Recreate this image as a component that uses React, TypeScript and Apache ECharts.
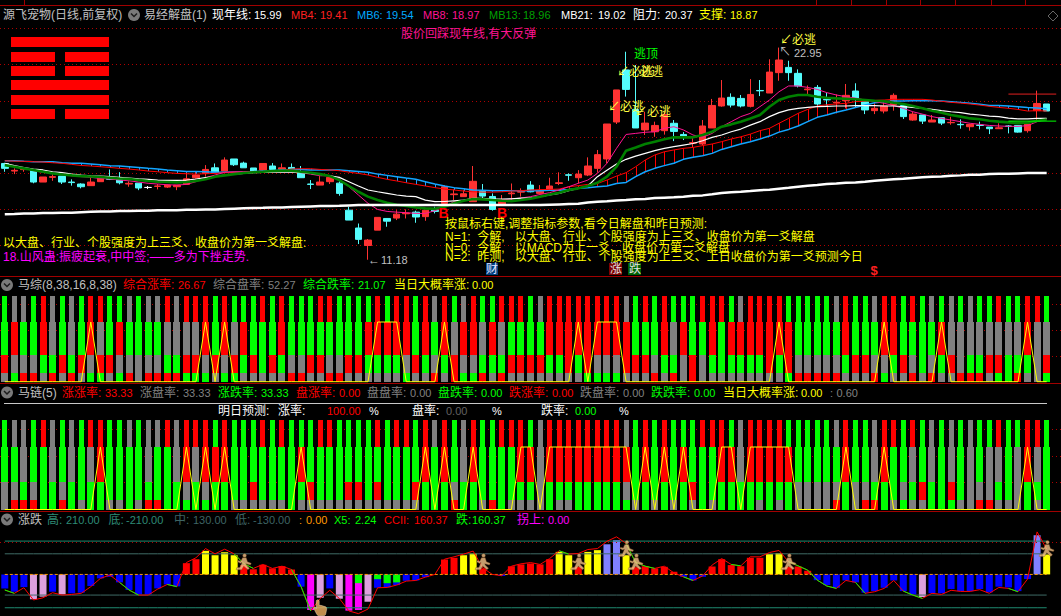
import React, { useEffect, useRef } from "react";
import * as echarts from "echarts";

// ---------- main panel data ----------
// [open, close, low, high]
const candles: number[][] = [
[16.52,16.25,16.06,16.56],[16.10,16.14,15.93,16.25],[16.18,16.22,16.06,16.30],[16.12,15.49,15.42,16.19],[15.49,15.77,15.49,15.77],
[15.75,15.79,15.56,15.93],[15.82,15.49,15.38,15.82],[15.49,15.46,15.29,15.64],[15.38,15.23,15.14,15.42],[15.29,15.49,15.29,15.75],
[15.51,15.73,15.51,15.82],[15.73,15.64,15.60,16.19],[15.67,15.45,15.36,16.04],[15.38,15.42,15.23,15.53],[15.43,15.16,15.04,15.43],
[15.19,15.19,15.10,15.27],[15.25,15.27,15.08,15.38],[15.21,15.32,15.16,15.36],[15.23,15.32,15.04,15.32],[15.36,15.67,15.36,16.01],
[15.73,15.88,15.67,16.06],[15.97,16.19,15.79,16.43],[16.28,16.03,16.03,16.52],[16.10,16.71,16.10,16.86],[16.77,16.45,16.38,16.77],
[16.54,16.28,16.28,16.62],[16.27,16.10,16.10,16.27],[16.15,16.52,16.15,16.52],[16.38,16.19,16.19,16.54],[16.19,16.28,16.10,16.52],
[16.30,16.19,16.12,16.52],[16.04,15.73,15.73,16.38],[15.38,15.36,15.10,15.60],[15.32,15.49,15.32,15.82],[15.51,15.75,15.38,15.75],
[15.43,14.86,14.73,15.67],[13.93,13.38,13.38,14.12],[12.94,12.31,12.05,13.19],[11.97,12.27,11.18,12.33],[12.82,13.53,12.82,13.53],
[13.47,13.32,13.01,13.47],[13.49,13.71,13.38,13.93],[13.73,13.77,13.47,13.97],[13.82,13.55,13.23,13.90],[13.57,13.93,13.34,13.93],
[13.93,13.86,13.75,14.12],[14.30,15.23,14.27,15.32],[14.79,14.83,14.49,15.08],[14.68,14.84,14.68,15.04],[14.40,15.53,14.40,16.38],
[14.99,14.71,14.58,15.38],[14.69,13.97,13.90,14.86],[14.27,14.49,14.27,14.77],[14.84,14.88,14.49,15.41],[14.93,14.97,14.68,15.14],
[15.32,14.95,14.92,15.54],[14.86,14.99,14.86,15.32],[15.08,15.27,15.04,15.73],[15.41,15.45,15.32,16.03],[15.89,15.87,15.56,15.97],
[15.73,15.93,15.41,16.15],[15.88,16.38,15.82,16.86],[16.25,17.01,16.01,17.27],[16.77,18.71,16.52,18.71],[18.82,20.60,18.71,20.60],
[21.71,20.63,20.23,22.72],[19.52,18.49,18.49,21.98],[18.38,18.76,18.10,19.39],[18.28,18.63,18.00,18.84],[18.34,19.24,18.12,19.39],
[18.75,18.30,17.76,18.93],[18.13,17.99,17.82,18.26],[17.64,17.68,17.41,17.97],[17.60,18.60,17.52,18.93],[18.49,19.74,18.49,20.10],
[19.71,20.15,19.67,21.15],[20.19,19.76,19.63,20.41],[20.13,19.71,19.63,20.32],[19.69,20.35,19.63,21.20],[20.57,20.55,20.26,21.15],
[20.43,21.59,20.43,22.30],[21.56,22.26,21.11,22.95],[21.85,21.56,21.11,22.22],[21.52,20.82,20.74,21.74],[20.61,20.65,20.37,20.85],
[20.74,19.82,19.71,20.87],[20.08,20.05,19.74,20.45],[19.88,19.92,19.30,20.35],[20.00,20.30,19.58,20.93],[20.54,20.13,19.63,20.97],
[19.95,19.49,19.26,20.04],[19.45,19.58,19.26,19.86],[19.43,19.71,19.30,19.95],[19.76,20.30,19.45,20.41],[19.73,19.12,18.99,19.86],
[18.93,19.26,18.89,19.39],[19.21,18.87,18.71,19.21],[18.82,18.93,18.82,19.21],[19.06,18.76,18.65,19.06],[18.78,18.80,18.67,19.11],
[18.69,18.67,18.45,18.97],[18.56,18.69,18.34,18.69],[18.65,18.63,18.41,18.84],[18.54,18.45,18.15,18.54],[18.45,18.50,18.45,18.75],
[18.60,18.58,18.19,18.65],[18.63,18.26,18.23,18.63],[18.34,18.71,18.23,18.71],[19.45,19.85,18.93,20.56],[19.82,19.43,19.43,19.82],
];
const yearLine = [
13.71,13.72,13.74,13.74,13.77,13.77,13.79,13.79,13.82,13.84,13.86,13.86,13.88,13.88,13.90,13.90,13.92,13.93,13.93,13.95,
13.95,13.97,13.97,13.99,14.01,14.03,14.05,14.06,14.08,14.08,14.10,14.12,14.14,14.16,14.16,14.17,14.19,14.21,14.21,14.21,
14.21,14.21,14.21,14.21,14.21,14.21,14.21,14.21,14.21,14.21,14.21,14.21,14.21,14.21,14.21,14.21,14.21,14.23,14.25,14.27,
14.29,14.36,14.40,14.43,14.47,14.49,14.53,14.55,14.60,14.62,14.64,14.68,14.73,14.75,14.81,14.88,14.93,14.95,14.99,15.04,
15.06,15.12,15.17,15.23,15.28,15.32,15.38,15.41,15.45,15.47,15.51,15.56,15.60,15.64,15.67,15.71,15.75,15.79,15.80,15.84,
15.86,15.90,15.90,15.93,15.95,15.95,15.97,15.99,15.99,15.99];
const mb6 = [
16.67,16.67,16.64,16.62,16.62,16.62,16.56,16.53,16.53,16.49,16.45,16.40,16.38,16.34,16.30,16.25,16.21,16.16,16.12,16.08,
16.08,16.06,16.04,16.03,16.03,16.04,16.06,16.10,16.12,16.16,16.19,16.19,16.16,16.16,16.16,16.16,16.12,16.08,16.03,15.93,
15.86,15.79,15.71,15.64,15.51,15.38,15.27,15.18,15.12,15.05,15.03,15.01,15.01,15.01,15.01,15.01,15.01,15.03,15.03,15.08,
15.14,15.18,15.23,15.27,15.41,15.47,15.79,16.06,16.25,16.40,16.53,16.75,16.86,16.95,17.08,17.30,17.45,17.60,17.73,17.88,
18.04,18.26,18.41,18.60,18.84,19.08,19.21,19.36,19.49,19.63,19.76,19.89,19.95,19.98,19.98,20.00,20.00,20.00,19.98,19.95,
19.91,19.86,19.80,19.74,19.73,19.71,19.67,19.63,19.60,19.56];
const mb4 = [
16.67,16.65,16.64,16.62,16.60,16.56,16.53,16.47,16.41,16.38,16.34,16.30,16.25,16.21,16.16,16.10,16.06,16.01,15.97,15.95,
15.93,15.95,15.97,16.01,16.03,16.04,16.06,16.06,16.08,16.12,16.21,16.23,16.23,16.19,16.16,16.12,16.04,15.97,15.88,15.75,
15.64,15.55,15.45,15.36,15.27,15.18,15.10,15.05,14.99,14.95,14.93,14.93,14.95,14.99,15.01,15.05,15.07,15.08,15.10,15.23,
15.29,15.36,15.41,15.60,15.82,16.01,16.34,16.71,16.99,17.17,17.27,17.36,17.41,17.51,17.60,17.73,17.88,18.00,18.15,18.34,
18.47,18.75,19.02,19.30,19.52,19.71,19.78,19.82,19.86,19.95,19.98,20.02,20.04,20.08,20.08,20.08,20.08,20.04,19.97,19.91,
19.87,19.82,19.76,19.69,19.63,19.58,19.52,19.43,19.45,19.43];
const mb8 = [
16.47,16.34,16.25,16.12,16.03,15.97,15.91,15.84,15.79,15.75,15.69,15.66,15.60,15.56,15.49,15.42,15.38,15.34,15.32,15.36,
15.51,15.73,15.88,16.03,16.06,16.06,16.08,16.08,16.08,16.08,16.06,16.01,15.93,15.84,15.84,15.66,15.23,14.77,14.31,13.97,
13.86,13.82,13.79,13.75,13.75,13.90,14.12,14.40,14.49,14.53,14.53,14.49,14.49,14.55,14.60,14.68,14.80,14.90,15.05,15.23,
15.42,15.60,15.97,16.53,17.36,18.13,18.19,18.25,18.28,18.47,18.56,18.38,18.10,17.97,18.19,18.56,18.84,19.12,19.30,19.67,
20.04,20.50,20.82,20.82,20.74,20.63,20.45,20.32,20.22,20.15,20.04,19.95,19.86,19.73,19.58,19.39,19.26,19.12,19.02,18.93,
18.84,18.75,18.69,18.63,18.60,18.58,18.58,18.62,18.84,18.97];
const mb13 = [
16.43,16.34,16.25,16.16,16.06,15.97,15.91,15.86,15.82,15.80,15.77,15.73,15.69,15.66,15.60,15.55,15.51,15.49,15.47,15.49,
15.55,15.64,15.79,15.86,15.93,15.99,16.03,16.06,16.10,16.12,16.12,16.06,16.01,15.93,15.82,15.60,15.27,14.95,14.68,14.49,
14.34,14.23,14.16,14.08,14.03,14.01,14.12,14.31,14.45,14.55,14.53,14.49,14.45,14.43,14.49,14.56,14.68,14.80,14.90,15.05,
15.14,15.27,15.45,15.79,16.34,17.23,17.41,17.60,17.73,17.86,17.97,17.97,17.97,18.10,18.28,18.56,18.69,18.84,19.02,19.21,
19.67,20.04,20.22,20.32,20.32,20.22,20.17,20.13,20.11,20.08,20.04,20.00,19.97,19.89,19.82,19.71,19.58,19.45,19.34,19.21,
19.12,19.02,18.97,18.89,18.84,18.80,18.76,18.78,18.89,18.96];
const mb21 = [
16.53,16.40,16.29,16.21,16.16,16.06,16.01,15.93,15.88,15.84,15.82,15.79,15.75,15.71,15.67,15.64,15.60,15.58,15.58,15.60,
15.66,15.73,15.79,15.88,15.93,15.97,16.01,16.03,16.04,16.04,16.04,16.03,15.97,15.91,15.84,15.75,15.51,15.27,15.05,14.95,
14.86,14.77,14.71,14.68,14.49,14.40,14.41,14.45,14.49,14.58,14.58,14.55,14.55,14.56,14.60,14.62,14.68,14.77,14.86,15.01,
15.14,15.27,15.79,16.15,16.49,16.75,16.93,17.08,17.23,17.36,17.45,17.54,17.63,17.78,17.97,18.10,18.28,18.43,18.65,18.84,
19.12,19.34,19.49,19.58,19.63,19.67,19.69,19.71,19.71,19.73,19.73,19.73,19.71,19.71,19.67,19.63,19.58,19.52,19.45,19.39,
19.34,19.26,19.21,19.15,19.12,19.04,18.99,18.99,19.02,19.02];
const resistance = 20.37;
const support = 18.87;
const hexagram = [1, 0, 0, 1, 1, 0]; // top to bottom: 1 = solid line, 0 = broken line

// ---------- stacked cell panels (R red, G green, K grey) ----------
const cellTop =
  "GKKGRKGKGRRGGKGKKRKRRRGRGGGR" + "GRGGGRRGGGGRGRRGRKRGKRGGRRR" +
  "GKRRRRRRRRKGRGRGGGRRRGKRRRRGGGGGKRGGKRRGRGKGKGKGGRGGRRG";
const zongRow2 =
  "GRGGRKGKGRKGRGGGGKKKKRGRKRGG" + "GRGGGGGGGGRRRRRGRGRKRRKRKGG" +
  "GGRRRRRRRRRGGGRKRGGRGRRRRRRRGGGGGRGGGRRGGGGRKKKKKKKKRKK";
const zongRow3 =
  "RKKKGGRGRKRRKKKKKGGRRKRKRGRG" + "RGKKRRKKRRGGGGKRGKGRKKGGGRR" +
  "RRGGRGRKKKRRRKGGKRKGGGGGGRGRKKKKKGRRKKGRKGKGRKGGRRGGGKR";
const zongRow4 =
  "KGRRKRKRKGGKGRKRRRRGGGKGGKKK" + "KKRRKKRRKKKKKKGKKRKRGGRKRKK" +
  "KKKKKKGGGGKKKRKRKRKKKKKKKKKGRRRRRKKKRGKKRKRKKRRRKGGRKKG";
const lianRow2 =
  "GGKGGKGKGKRGGGGKGGKRKRRRGGGG" + "GGGRGGGGGGGGGGGGRGRGKRGGGGR" +
  "RKRRRRRRRRRGRGRGRGGGRRKRRRRRGGGGGRGGKRGGKGKGKGKGKKGKRKG";
const lianRow3 =
  "KKGKGGKGGGGGGGGGGGGKGKGGGGRG" + "GGGGRGGGRRGRGGGRGGGKGGGGGGG" +
  "GKGGGGGGGGKGGGGGGRGGGGGGGGGGKKKKKGKKGGGKGRGGRGKKKGGKGGG";
const lianRow4 =
  "KRRRGGRGKGGKKGKRRGGGGGGGKKKK" + "KKGKKKKKKKKKKKKKGGGRGGKRGKK" +
  "KKGKKGGGGGGKGKGKGKGKGGGGKGKGKKKKRGKRRGKGKKGGGKKRRKKKGKG";
const rowEdges = [0, 15, 44, 100, 143];
const zongPeaks = [9, 21, 23, 39, 40, 41, 46, 60, 62, 63, 64, 81, 92, 98, 107];
const lianPeaks = [10, 19, 21, 23, 31, 44, 46, 49, 54, 55, 57, 58, 59, 60, 61, 62, 63, 64, 65, 67, 69, 71, 75, 76, 78, 79, 80, 81, 82, 88, 92, 107];

// ---------- bottom panel ----------
const histValues = [
-88,-109,-80,-157,-140,-109,-126,-119,-115,-73,-25,-15,-50,-98,-126,-126,-88,-63,-75,71,
96,149,121,140,121,59,33,61,38,52,31,-77,-224,-147,-88,-153,-228,-224,-172,-84,
-82,-67,-40,-38,-17,0,94,105,121,132,38,0,-10,52,63,69,63,96,142,121,
48,142,153,190,216,121,46,52,38,48,17,-15,-38,-15,50,96,59,52,105,105,
128,134,48,50,23,-36,-67,-84,-38,-50,-115,-105,-84,-38,-105,-126,-142,-119,-119,-92,
-105,-105,-92,-113,-77,-82,-105,-29,247,126];
const histColorKeys =
  "BBBLLBLBBB" + "BBBBBBBBBR" + "RYYYYRRRRR" + "RBMLBLMMLB" + "BBBBBBRRYY" +
  "RBBRRRRRYY" + "RYYPPYRRRR" + "RBBBRRRRRR" + "YYRRRBBBBB" + "BBBBBBLBBB" + "BBBBBBBBPY";
const cci = [
-98,-119,-84,-161,-147,-115,-130,-126,-119,-77,-25,-4,-50,-98,-130,-130,-92,-63,-77,75,
105,163,130,159,130,69,38,63,38,52,31,-77,-230,-151,-100,-151,-230,-247,-218,-84,
-82,-67,-42,-38,-17,0,96,111,128,147,42,0,-8,52,67,75,63,100,149,128,
132,157,163,209,237,195,75,52,38,52,10,-15,-38,-10,59,100,63,54,111,111,
138,151,80,54,27,-36,-73,-88,-38,-50,-119,-109,-88,-38,-105,-130,-151,-119,-126,-100,
-107,-107,-96,-119,-82,-88,-109,-29,268,160];
const cciFalling = [[0, 1], [12, 14], [17, 18], [24, 26], [30, 32], [58, 59], [65, 68], [71, 72], [76, 77], [82, 87], [89, 90], [94, 96], [103, 103], [105, 106]];
const greenOverlay: Record<number, number> = { 37: -55, 39: -30, 40: -55, 41: -50 };
const highLevel = 210;
const lowLevel = -210;
const midLevel = 130;
const minorLevel = -130;
const runnerAt = [[25, 80], [50, 80], [60, 80], [65, 164], [66, 80], [82, 80], [109, 164]];
const handAt = [[33, -210]];

const CATS = 111;
const COLS = 110;
const FONT = '12px "Liberation Sans","Noto Sans CJK SC","DejaVu Sans"';
const NUMFONT = '11px "Liberation Sans","Noto Sans CJK SC","DejaVu Sans"';

const RUNNER = "path://M11 0a2.2 2.2 0 1 1-.01 0zM8.5 5L13 5L14.5 10L19 12L18 14L12.5 12.5L13 14L17 18L15 20L10 15.5L7.5 20L1 20L1.5 17.5L5.5 17L8 11L6 12L2.5 10L3.5 8.5L6.5 9.5Z";
const HAND = "path://M5 0C6.5 0 7 1 7 2L7 7L9 7L14 8.5C15.5 9 16 10 16 11.5L15 17C14.8 18.5 14 20 12 20L7 20C5.5 20 4.5 19 4 18L0.5 11C0 9.5 1.5 8.5 3 10L3.5 11L3.5 2C3.5 1 4 0 5 0Z";

function cells(rows: string[]) {
  const out: number[][] = [];
  rows.forEach((row, r) => {
    for (let i = 0; i < COLS; i++) {
      const c = "RGK".indexOf(row.charAt(i) || "K");
      // rows are given top to bottom, edges run bottom to top
      out.push([i, rowEdges[3 - r], rowEdges[4 - r], c, r]);
    }
  });
  return out;
}
const CELL_COLORS = ["#ff0000", "#00ff00", "#808080"];
function renderCell(_: any, api: any) {
  const i = api.value(0);
  const lo = api.coord([i, api.value(1)]);
  const hi = api.coord([i, api.value(2)]);
  const w = api.value(4) === 0 ? 5 : 7;
  const top = Math.round(hi[1]);
  return {
    type: "rect",
    shape: { x: Math.round(lo[0] - w / 2), y: top, width: w, height: Math.round(lo[1]) - top },
    style: { fill: CELL_COLORS[api.value(3)] },
  };
}
function renderStick(_: any, api: any) {
  const i = api.value(0);
  const a = api.coord([i, api.value(1)]);
  const b = api.coord([i, api.value(2)]);
  const x = Math.round(a[0]) + 0.5;
  return {
    type: "line",
    shape: { x1: x, y1: a[1], x2: x, y2: b[1] },
    style: { stroke: api.value(1) >= api.value(2) ? "#ff0000" : "#1e9bff", lineWidth: 1 },
  };
}
const peaks = (list: number[]) => Array.from({ length: COLS }, (_, i) => (list.indexOf(i) >= 0 ? 100 : 0));

function graphics() {
  const els: any[] = [];
  const t = (x: number, y: number, text: string, fill: string) =>
    els.push({
      type: "text", x, y, z: 60, silent: true,
      style: { text, fill, font: /^[\x00-\x7f]+$/.test(text) ? NUMFONT : FONT, align: "left", verticalAlign: "middle" },
    });
  const box = (x: number, y: number, w: number, h: number, fill: string) =>
    els.push({ type: "rect", z: 55, silent: true, shape: { x, y, width: w, height: h }, style: { fill } });
  const hline = (x1: number, x2: number, y: number, stroke: string) =>
    els.push({ type: "line", z: 55, silent: true, shape: { x1, y1: y, x2, y2: y }, style: { stroke, lineWidth: 1 } });
  const chevron = (cx: number, cy: number) => {
    els.push({ type: "circle", z: 55, silent: true, shape: { cx, cy, r: 6 }, style: { fill: "#7a7a7a" } });
    els.push({ type: "polyline", z: 56, silent: true, shape: { points: [[cx - 3, cy - 1.5], [cx, cy + 1.5], [cx + 3, cy - 1.5]] }, style: { stroke: "#1c1c1c", lineWidth: 1.5, fill: "none" } });
  };

  const DARK = "#a00000";
  hline(0, 1061, 5.5, DARK);
  hline(0, 1061, 276.5, DARK);
  hline(0, 1061, 383.5, DARK);
  hline(0, 1061, 511.5, DARK);
  hline(4, 1047, 403.5, "#c8c8c8");
  [24, 816, 851, 886, 920, 955, 991, 1025].forEach((x) =>
    els.push({ type: "line", z: 55, silent: true, shape: { x1: x + 0.5, y1: 0, x2: x + 0.5, y2: 5 }, style: { stroke: DARK, lineWidth: 1 } }));
  els.push({ type: "polygon", z: 55, silent: true, shape: { points: [[1053, 11], [1058, 16], [1053, 21], [1048, 16]] }, style: { stroke: "#666", fill: "none", lineWidth: 1 } });

  // hexagram
  const rowYs = [37, 52, 66, 80, 95, 109];
  hexagram.forEach((solid, k) => {
    if (solid) box(11, rowYs[k], 98, 10, "#ff0000");
    else { box(11, rowYs[k], 44, 10, "#ff0000"); box(65, rowYs[k], 44, 10, "#ff0000"); }
  });

  // main header
  const y1 = 15;
  t(3, y1, "源飞宠物(日线,前复权)", "#c0c0c0");
  chevron(134, y1);
  t(144, y1, "易经解盘(1)", "#c0c0c0");
  t(212, y1, "现年线:", "#ffffff"); t(254, y1, "15.99", "#ffffff");
  t(291, y1, "MB4:", "#ff2020"); t(320, y1, "19.41", "#ff2020");
  t(357, y1, "MB6:", "#00aaff"); t(386, y1, "19.54", "#00aaff");
  t(423, y1, "MB8:", "#ff1493"); t(452, y1, "18.97", "#ff1493");
  t(489, y1, "MB13:", "#00a000"); t(523, y1, "18.96", "#00a000");
  t(561, y1, "MB21:", "#ffffff"); t(598, y1, "19.02", "#ffffff");
  t(633, y1, "阻力:", "#ffffff"); t(665, y1, "20.37", "#ffffff");
  t(699, y1, "支撑:", "#ffff00"); t(730, y1, "18.87", "#ffff00");

  // main annotations
  t(401, 34, "股价回踩现年线,有大反弹", "#ff1493");
  t(634, 54, "逃顶", "#00ff00");
  t(617, 72, "↙必逃", "#ffff40"); t(639, 72, "必逃", "#ffff40");
  t(608, 107, "↙必逃", "#ffff40"); t(635, 112, "↙必逃", "#ffff40");
  t(780, 40, "↙必逃", "#ffff40");
  t(779, 52, "↖", "#c0c0c0"); t(794, 53, "22.95", "#c0c0c0");
  t(368, 260, "←", "#c0c0c0"); t(381, 260, "11.18", "#c0c0c0");
  els.push({ type: "text", x: 443.5, y: 213, z: 60, silent: true, style: { text: "B", fill: "#ff0000", font: 'bold 14px "Liberation Sans"', align: "center", verticalAlign: "middle" } });
  els.push({ type: "text", x: 502, y: 213, z: 60, silent: true, style: { text: "B", fill: "#ff0000", font: 'bold 14px "Liberation Sans"', align: "center", verticalAlign: "middle" } });
  t(3, 243, "以大盘、行业、个股强度为上三爻、收盘价为第一爻解盘:", "#ffff00");
  t(3, 257, "18.山风蛊:振疲起衰,中中签;——多为下挫走势.", "#ff00ff");
  t(445, 224, "按鼠标右键,调整指标参数,看今日解盘和昨日预测:", "#ffff00");
  t(445, 237, "N=1:  今解,   以大盘、行业、个股强度为上三爻、收盘价为第一爻解盘", "#ffff00");
  t(445, 248, "N=0:  今解,   以MACD为上一爻、收盘价为第一爻解盘", "#ffff00");
  t(445, 257, "N=2:  昨测,   以大盘、行业、个股强度为上三爻、上日收盘价为第一爻预测今日", "#ffff00");
  box(486, 263, 12, 12, "#00407f"); t(486, 269, "财", "#e0e0ff");
  box(609, 263, 13, 12, "#7f0000"); t(610, 269, "涨", "#e0e0e0");
  box(628, 263, 13, 12, "#006000"); t(629, 269, "跌", "#e0e0e0");
  els.push({ type: "text", x: 874, y: 270, z: 60, silent: true, style: { text: "$", fill: "#ff2020", font: 'bold 13px "Liberation Sans"', align: "center", verticalAlign: "middle" } });

  // panel 2 header
  const y2 = 285;
  chevron(7, y2);
  t(18, y2, "马综(8,38,16,8,38)", "#c0c0c0");
  t(123, y2, "综合涨率:", "#ff0000"); t(178, y2, "26.67", "#ff0000");
  t(213, y2, "综合盘率:", "#808080"); t(268, y2, "52.27", "#808080");
  t(303, y2, "综合跌率:", "#00ff00"); t(358, y2, "21.07", "#00ff00");
  t(394, y2, "当日大概率涨:", "#ffff00"); t(472, y2, "0.00", "#ffff00");

  // panel 3 header
  const y3 = 392.5;
  chevron(7, y3);
  t(18, y3, "马链(5)", "#c0c0c0");
  t(62, y3, "涨涨率:", "#ff0000"); t(105, y3, "33.33", "#ff0000");
  t(140, y3, "涨盘率:", "#808080"); t(183, y3, "33.33", "#808080");
  t(218, y3, "涨跌率:", "#00ff00"); t(261, y3, "33.33", "#00ff00");
  t(296, y3, "盘涨率:", "#ff0000"); t(339, y3, "0.00", "#ff0000");
  t(367, y3, "盘盘率:", "#808080"); t(410, y3, "0.00", "#808080");
  t(438, y3, "盘跌率:", "#00ff00"); t(481, y3, "0.00", "#00ff00");
  t(509, y3, "跌涨率:", "#ff0000"); t(552, y3, "0.00", "#ff0000");
  t(580, y3, "跌盘率:", "#808080"); t(623, y3, "0.00", "#808080");
  t(651, y3, "跌跌率:", "#00ff00"); t(694, y3, "0.00", "#00ff00");
  t(723, y3, "当日大概率涨:", "#ffff00"); t(801, y3, "0.00", "#ffff00");
  t(830, y3, ":", "#808080"); t(836.5, y3, "0.60", "#808080");
  const y3b = 411;
  t(218, y3b, "明日预测:", "#ffffff"); t(278, y3b, "涨率:", "#ffffff");
  t(327, y3b, "100.00", "#ff0000"); t(369, y3b, "%", "#ffffff");
  t(412, y3b, "盘率:", "#ffffff"); t(446, y3b, "0.00", "#606060"); t(492, y3b, "%", "#ffffff");
  t(541, y3b, "跌率:", "#ffffff"); t(575, y3b, "0.00", "#00ff00"); t(619, y3b, "%", "#ffffff");

  // panel 4 header
  const y4 = 519.5;
  chevron(7, y4);
  t(18, y4, "涨跌", "#c0c0c0");
  t(47, y4, "高:", "#2e8b76"); t(66, y4, "210.00", "#2e8b76");
  t(108.5, y4, "底:", "#2e8b76"); t(126, y4, "-210.00", "#2e8b76");
  t(174, y4, "中:", "#3e6464"); t(193, y4, "130.00", "#3e6464");
  t(235, y4, "低:", "#3e6464"); t(253, y4, "-130.00", "#3e6464");
  t(299, y4, ":", "#ff9900"); t(306, y4, "0.00", "#ff9900");
  t(334, y4, "X5:", "#00ff00"); t(355, y4, "2.24", "#00ff00");
  t(384, y4, "CCII:", "#ff0000"); t(414, y4, "160.37", "#ff0000");
  t(456, y4, "跌:", "#00ff00"); t(472, y4, "160.37", "#00ff00");
  t(517, y4, "拐上:", "#ff00ff"); t(548, y4, "0.00", "#ff00ff");
  return els;
}

export default function App() {
  const ref = useRef<HTMLDivElement>(null);
  useEffect(() => {
    document.body.style.margin = "0";
    document.body.style.background = "#000";
    const chart = echarts.init(ref.current!, undefined, { renderer: "svg" });
    const idx = Array.from({ length: CATS }, (_, i) => String(i));
    const gridW = 1061;
    const dotted = { show: true, showMinLine: false, showMaxLine: false, lineStyle: { color: "#b00000", width: 1, type: [1, 3] as any } };
    const valueAxis = (gridIndex: number, min: number, max: number, interval: number) => ({
      type: "value", gridIndex, min, max, interval, axisLine: { show: false }, axisTick: { show: false }, axisLabel: { show: false }, splitLine: dotted,
    });
    const xAx = (gridIndex: number) => ({ type: "category", gridIndex, data: idx, show: false, boundaryGap: true });
    const line = (name: string, data: any, color: string, width: number, gi = 0, extra: any = {}) => ({
      type: "line", name, data, xAxisIndex: gi, yAxisIndex: gi, showSymbol: false, symbol: "none", silent: true,
      lineStyle: { color, width }, ...extra,
    });
    const custom = (gi: number, rows: string[]) => ({
      type: "custom", xAxisIndex: gi, yAxisIndex: gi, silent: true, data: cells(rows), renderItem: renderCell, encode: { x: 0, y: [1, 2] },
    });

    const candleData = candles.map((c, i) =>
      i === 15 ? { value: c, itemStyle: { color: "#fff", color0: "#fff", borderColor: "#fff", borderColor0: "#fff" } } : c);
    const histColor: Record<string, string> = { B: "#0000ff", R: "#ff0000", Y: "#ffff00", M: "#ff00ff", L: "#dda0dd", P: "#8080ff" };
    const falling = cci.map((v, i) => (cciFalling.some(([a, b]) => i >= a && i <= b) ? v : null));
    const constant = (v: number) => Array.from({ length: COLS }, () => v);

    chart.setOption({
      animation: false,
      backgroundColor: "#000",
      tooltip: { show: false },
      grid: [
        { left: 0, top: 20, width: gridW, height: 261 },
        { left: 0, top: 292.15, width: gridW, height: 89.55 },
        { left: 0, top: 415.75, width: gridW, height: 93.75 },
        { left: 0, top: 530, width: gridW, height: 85.7 },
      ],
      xAxis: [xAx(0), xAx(1), xAx(2), xAx(3)],
      yAxis: [
        valueAxis(0, 10, 24.48, 2),
        valueAxis(1, 0, 150, 43),
        valueAxis(2, 0, 150, 43),
        { type: "value", gridIndex: 3, min: -260, max: 280, show: false, splitLine: { show: false } },
      ],
      series: [
        {
          type: "candlestick", data: candleData, barWidth: 7, silent: true,
          itemStyle: { color: "#ff3232", color0: "#54fcfc", borderColor: "#ff3232", borderColor0: "#54fcfc", borderWidth: 1 },
        },
        { type: "custom", silent: true, data: mb4.map((v, i) => [i, v, mb6[i]]), renderItem: renderStick, encode: { x: 0, y: [1, 2] } },
        line("MB6", mb6, "#12a5ff", 1.5),
        line("MB4", mb4, "#ff0000", 1),
        line("MB8", mb8, "#ff1493", 1),
        line("MB21", mb21, "#ffffff", 1.2),
        line("MB13", mb13, "#008000", 2.6),
        line("YEAR", yearLine, "#ffffff", 2.5),
        line("RES", [[105, resistance], [110, resistance]], "#e02020", 1),
        line("SUP", [[105, support], [110, support]], "#00ff00", 1),

        custom(1, [cellTop, zongRow2, zongRow3, zongRow4]),
        line("Z", peaks(zongPeaks), "#ffff00", 1, 1, { clip: false }),
        custom(2, [cellTop, lianRow2, lianRow3, lianRow4]),
        line("L", peaks(lianPeaks), "#ffff00", 1, 2, { clip: false }),

        line("H", constant(highLevel), "#1f8a70", 1, 3),
        line("M", constant(midLevel), "#3f6b66", 1, 3),
        line("N", constant(minorLevel), "#3f6b66", 1, 3),
        line("D", constant(lowLevel), "#1f8a70", 1, 3),
        {
          type: "bar", xAxisIndex: 3, yAxisIndex: 3, barWidth: 7, barGap: "-100%", silent: true,
          data: histValues.map((v, i) => ({ value: v, itemStyle: { color: histColor[histColorKeys[i]] } })),
        },
        {
          type: "bar", xAxisIndex: 3, yAxisIndex: 3, barWidth: 7, barGap: "-100%", silent: true,
          data: histValues.map((_, i) => (greenOverlay[i] === undefined ? null : greenOverlay[i])),
          itemStyle: { color: "#00ff00" },
        },
        line("ZERO", constant(0), "#ff9900", 1, 3, {
          lineStyle: { color: "#ff9900", width: 1, type: [3, 2] },
          markLine: {
            silent: true, symbol: "none", label: { show: false },
            lineStyle: { color: "#b00000", width: 1, type: [1, 3] },
            data: [{ yAxis: 200 }],
          },
        }),
        line("CCI", cci, "#ff0000", 1, 3),
        line("CCIF", falling, "#00ff00", 1, 3),
        {
          type: "scatter", xAxisIndex: 3, yAxisIndex: 3, data: runnerAt, symbol: RUNNER, symbolSize: [15, 16], silent: true,
          itemStyle: { color: "#f6c48a", borderColor: "#7a4a20", borderWidth: 0.5 }, z: 5,
        },
        {
          type: "scatter", xAxisIndex: 3, yAxisIndex: 3, data: handAt, symbol: HAND, symbolSize: [13, 16], silent: true,
          itemStyle: { color: "#f0b060", borderColor: "#fff0d0", borderWidth: 0.5 }, z: 5,
        },
      ],
      graphic: { elements: graphics() },
    });
    return () => chart.dispose();
  }, []);
  return <div ref={ref} style={{ width: 1061, height: 616, background: "#000", overflow: "hidden" }} />;
}
